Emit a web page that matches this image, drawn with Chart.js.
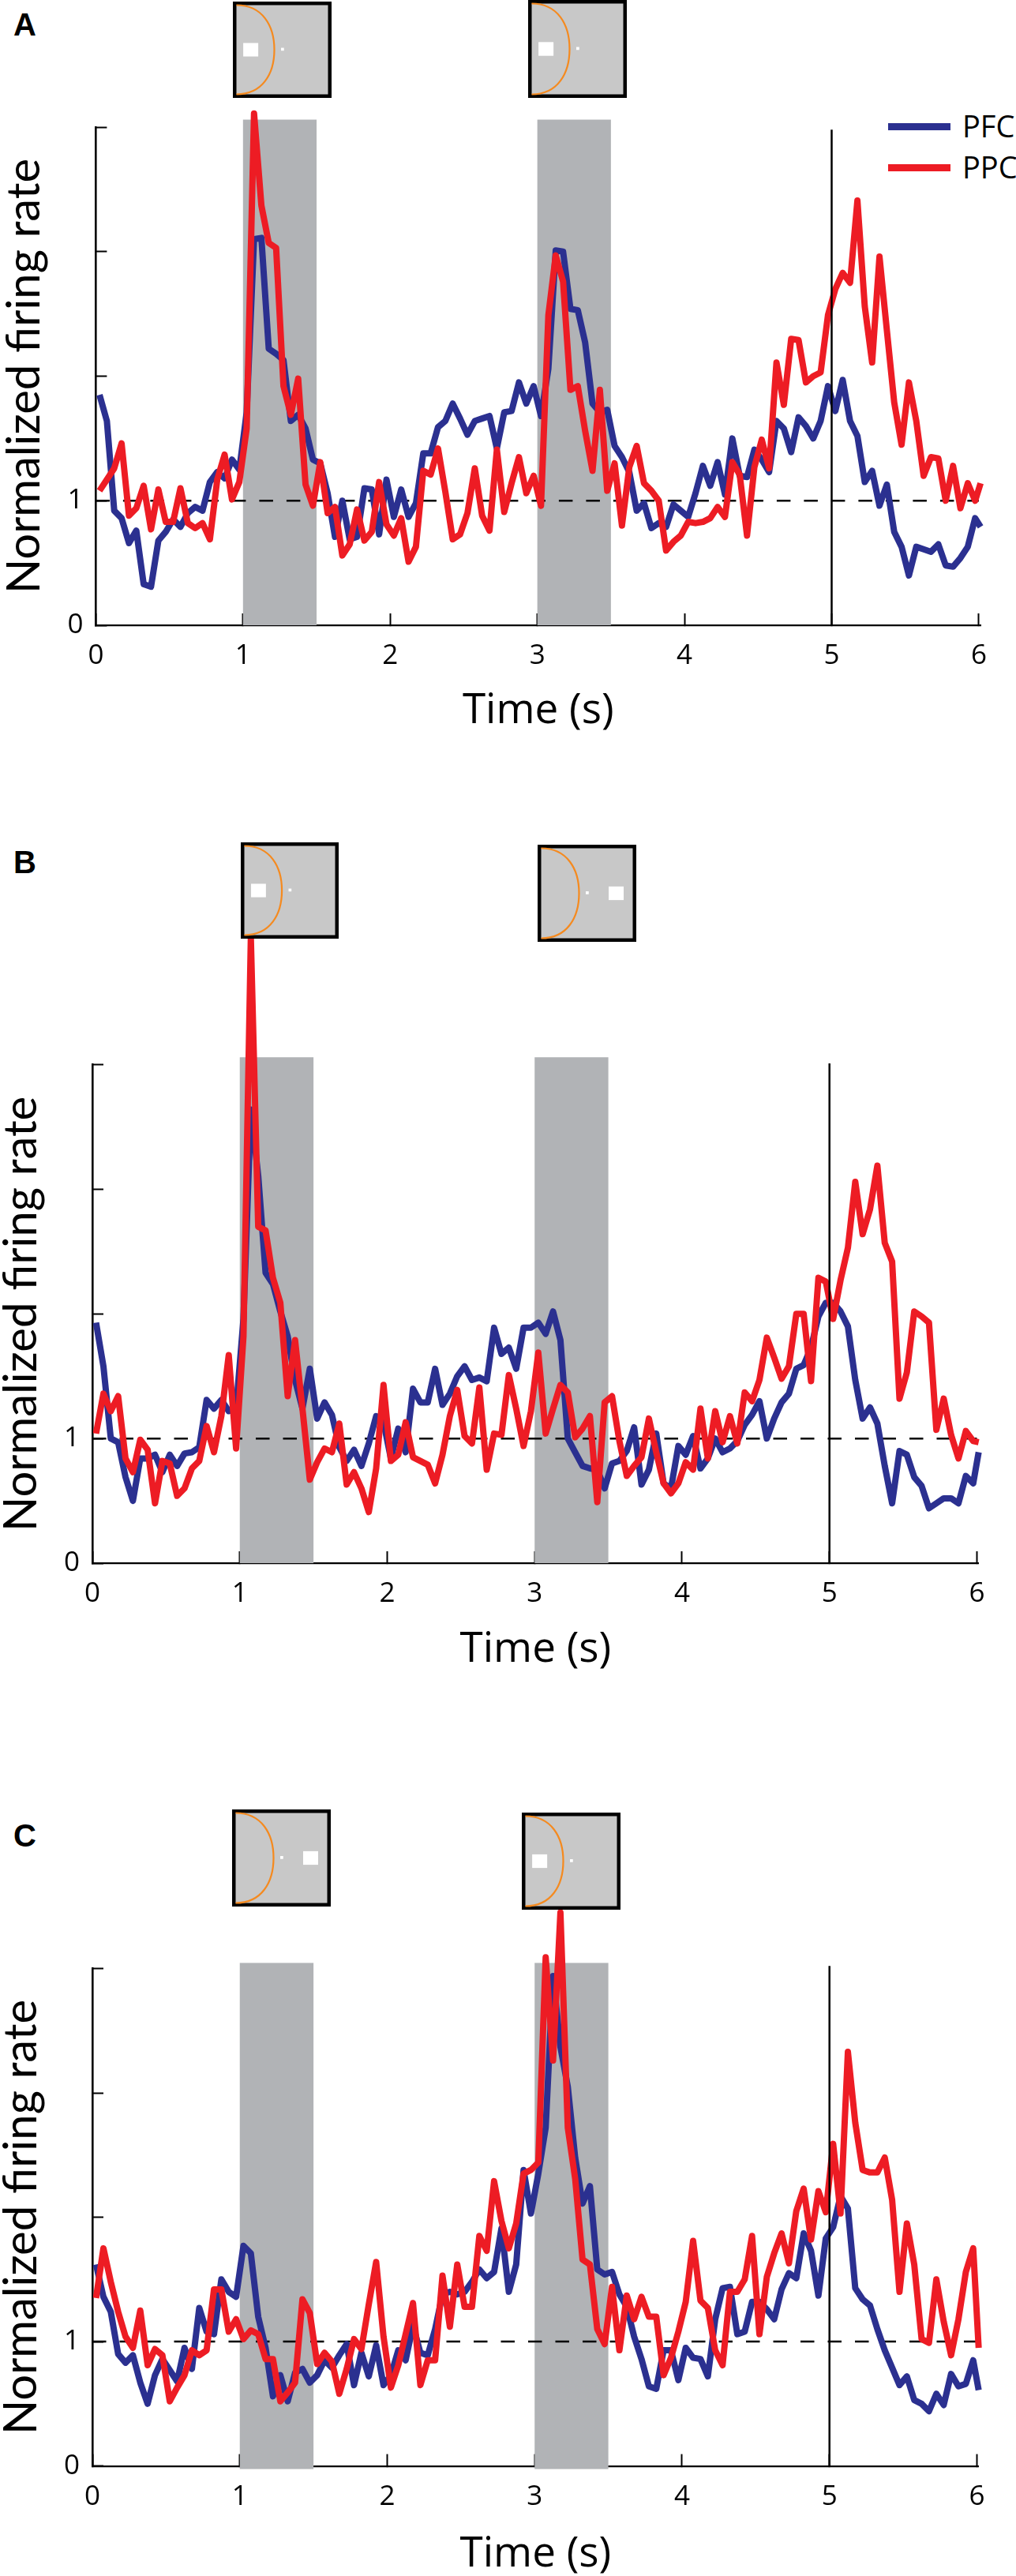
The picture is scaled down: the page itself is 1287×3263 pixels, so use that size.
<!DOCTYPE html>
<html>
<head>
<meta charset="utf-8">
<title>Normalized firing rate</title>
<script src="https://cdn.jsdelivr.net/npm/chart.js@4"></script>
<style>
html,body{margin:0;padding:0;background:#fff;}
body{position:relative;width:1287px;height:3263px;overflow:hidden;font-family:"Open Sans",sans-serif;}
canvas{position:absolute;left:0;}
.letter{position:absolute;left:17px;font:bold 40px "Liberation Sans",sans-serif;color:#000;line-height:1;}
.thumb{position:absolute;}
.legline{position:absolute;left:1125px;width:79px;height:8.5px;}
.legtext{position:absolute;left:1219px;font:38px "Open Sans",sans-serif;line-height:1;color:#000;}
</style>
</head>
<body>
<div class="letter" id="lA" style="top:11px">A</div>
<div class="letter" id="lB" style="top:1072px">B</div>
<div class="letter" id="lC" style="top:2305px">C</div>
<div class="legline" style="top:156px;background:#2b3090"></div>
<div class="legline" style="top:208px;background:#ed1c24"></div>
<div class="legtext" style="top:140px">PFC</div>
<div class="legtext" style="top:192px">PPC</div>
<script>
const xTicks = [0,1,2,3,4,5,6];
const yTicks = [0,1,2,3,4];
const yLabelled = [0,1];
const cueStarts = [1,3];
const cueLength = 0.5;
const responseTime = 5;
const baseline = 1;

const pfcA = [1.85,1.64,0.92,0.86,0.66,0.76,0.33,0.31,0.68,0.75,0.85,0.79,0.90,0.95,0.92,1.15,1.23,1.18,1.33,1.25,1.71,3.10,3.11,2.22,2.18,2.13,1.64,1.69,1.58,1.33,1.30,1.06,0.71,1.00,0.69,0.71,1.10,1.09,0.73,1.17,0.87,1.09,0.87,0.98,1.38,1.38,1.59,1.64,1.78,1.66,1.53,1.64,1.66,1.68,1.42,1.71,1.72,1.95,1.78,1.92,1.68,2.06,3.01,3.00,2.54,2.53,2.27,1.78,1.71,1.73,1.44,1.35,1.23,0.92,0.98,0.78,0.82,0.79,0.97,0.92,0.87,1.06,1.28,1.12,1.31,1.05,1.50,1.20,1.19,1.41,1.33,1.23,1.64,1.58,1.39,1.67,1.60,1.50,1.64,1.92,1.72,1.97,1.64,1.52,1.15,1.24,0.96,1.13,0.75,0.63,0.40,0.63,0.61,0.59,0.65,0.48,0.47,0.54,0.63,0.86,0.79];
const ppcA = [1.08,1.17,1.26,1.46,0.88,0.94,1.12,0.77,1.09,0.83,0.83,1.10,0.82,0.78,0.82,0.69,1.17,1.37,1.01,1.15,1.58,4.11,3.37,3.07,3.03,1.92,1.69,1.98,1.13,0.96,1.31,0.90,0.95,0.56,0.65,0.93,0.68,0.75,1.15,0.81,0.72,0.86,0.51,0.63,1.24,1.21,1.42,1.07,0.69,0.73,0.90,1.26,0.88,0.76,1.41,0.91,1.14,1.35,1.06,1.20,0.96,2.49,2.97,2.76,1.89,1.92,1.56,1.24,1.89,1.08,1.30,0.80,1.27,1.44,1.14,1.08,1.00,0.60,0.67,0.72,0.83,0.82,0.83,0.86,0.95,0.87,1.31,1.21,0.72,1.27,1.49,1.26,2.11,1.77,2.30,2.29,1.95,2.00,2.03,2.49,2.70,2.83,2.75,3.41,2.56,2.11,2.96,2.37,1.79,1.45,1.95,1.64,1.20,1.35,1.34,1.00,1.28,0.94,1.14,1.00,1.14];
const pfcB = [1.93,1.58,1.00,0.97,0.69,0.50,0.84,0.84,0.87,0.73,0.87,0.78,0.88,0.89,0.93,1.31,1.24,1.31,1.22,1.24,1.96,3.64,3.11,2.33,2.24,2.02,1.82,1.47,1.24,1.56,1.16,1.29,1.19,0.93,0.82,0.91,0.78,0.96,1.18,1.13,0.84,1.08,0.89,1.40,1.29,1.29,1.56,1.27,1.36,1.50,1.58,1.47,1.49,1.46,1.89,1.68,1.73,1.56,1.89,1.89,1.93,1.84,2.02,1.79,1.00,0.89,0.78,0.76,0.75,0.60,0.80,0.82,0.90,1.09,0.63,0.75,1.04,0.64,0.60,0.94,0.87,1.02,0.76,0.84,1.00,0.89,0.92,0.98,1.11,1.19,1.30,1.00,1.16,1.29,1.36,1.56,1.59,1.73,1.98,2.09,2.09,2.02,1.90,1.47,1.16,1.25,1.12,0.78,0.48,0.90,0.87,0.69,0.62,0.44,0.48,0.52,0.52,0.48,0.70,0.64,0.89];
const ppcB = [1.04,1.36,1.22,1.34,0.84,0.73,0.99,0.91,0.48,0.82,0.80,0.54,0.60,0.76,0.82,1.10,0.89,1.18,1.67,0.92,1.82,5.02,2.70,2.67,2.29,2.09,1.34,1.79,1.24,0.67,0.81,0.92,0.89,1.12,0.63,0.73,0.60,0.41,0.76,1.43,0.82,0.87,1.13,0.85,0.82,0.79,0.64,0.87,1.18,1.39,1.02,0.96,1.41,0.75,1.04,1.03,1.51,1.24,0.94,1.22,1.69,1.04,1.24,1.43,1.37,1.01,1.08,1.18,0.49,1.29,1.34,0.98,0.70,0.78,0.85,1.16,0.89,0.64,0.56,0.64,0.81,0.75,1.24,0.84,1.22,0.97,1.18,0.96,1.37,1.30,1.47,1.81,1.65,1.48,1.58,2.00,2.00,1.46,2.29,2.26,1.96,2.27,2.53,3.06,2.64,2.84,3.19,2.57,2.42,1.32,1.53,2.02,1.98,1.93,1.07,1.32,1.03,0.84,1.06,0.98,0.97];
const pfcC = [1.62,1.36,1.24,0.90,0.83,0.89,0.67,0.50,0.73,0.86,0.77,0.68,0.95,0.78,1.27,1.08,1.06,1.50,1.40,1.36,1.77,1.71,1.20,0.95,0.56,0.73,0.52,0.75,0.78,0.67,0.73,0.85,0.79,0.89,0.98,0.65,0.91,0.72,0.97,0.65,0.73,0.93,0.85,1.13,0.91,0.89,1.10,1.38,1.40,1.38,1.40,1.48,1.58,1.51,1.56,1.91,1.40,1.62,2.38,2.03,2.35,2.72,3.94,3.37,3.05,2.48,2.11,2.25,1.58,1.54,1.56,1.38,1.28,1.04,0.86,0.64,0.62,0.93,0.93,0.69,0.95,0.87,0.86,0.72,1.18,1.43,1.44,1.06,1.08,1.32,1.32,1.26,1.18,1.42,1.55,1.51,1.87,1.73,1.37,1.83,1.92,2.17,2.07,1.43,1.34,1.29,1.10,0.93,0.79,0.65,0.72,0.53,0.50,0.44,0.58,0.49,0.74,0.64,0.66,0.85,0.61];
const ppcC = [1.35,1.75,1.48,1.24,1.04,0.95,1.25,0.81,0.94,0.89,0.52,0.63,0.73,0.93,0.89,0.93,1.42,1.42,1.08,1.18,1.02,1.09,1.06,0.86,0.86,0.52,0.59,0.67,1.34,1.23,0.82,0.91,0.84,0.58,0.78,1.02,0.94,1.30,1.64,1.04,0.63,0.81,1.06,1.31,0.65,0.85,0.85,1.53,1.12,1.62,1.28,1.28,1.85,1.73,2.29,1.97,1.75,1.95,2.35,2.38,2.44,4.09,3.26,4.45,2.72,2.31,1.66,1.62,1.10,0.98,1.44,0.93,1.37,1.18,1.36,1.20,1.20,0.73,0.87,1.08,1.32,1.81,1.33,1.27,0.93,0.81,1.40,1.40,1.50,1.85,1.06,1.52,1.71,1.87,1.63,2.05,2.23,1.82,2.21,2.04,2.59,2.03,3.33,2.76,2.38,2.36,2.36,2.48,2.14,1.40,1.95,1.62,1.02,0.99,1.50,1.16,0.89,1.18,1.56,1.75,0.95];

const BLUE = '#2b3090', RED = '#ed1c24', BAND = '#b1b3b6', INK = '#000';
const XMAX = 6.012;

const bandPlugin = {
  id: 'cueBands',
  beforeDatasetsDraw(chart, args, opts) {
    const {ctx, scales:{x,y}} = chart;
    ctx.save();
    ctx.fillStyle = BAND;
    cueStarts.forEach(s => {
      const x0 = x.getPixelForValue(s), x1 = x.getPixelForValue(s + cueLength);
      const y0 = y.getPixelForValue(opts.top), y1 = y.getPixelForValue(opts.bottom);
      ctx.fillRect(x0, y0, x1 - x0, y1 - y0);
    });
    ctx.restore();
  }
};

function series(values) {
  return values.map((v, i) => ({x: Math.min(0.025 + 0.05 * i, XMAX), y: v}));
}

function makePanel(p) {
  const cv = document.createElement('canvas');
  cv.width = 1287; cv.height = p.h;
  cv.style.top = p.top + 'px';
  cv.style.width = '1287px'; cv.style.height = p.h + 'px';
  document.body.appendChild(cv);
  new Chart(cv.getContext('2d'), {
    type: 'line',
    plugins: [bandPlugin],
    data: {datasets: [
      {label:'vertical', data:[{x:responseTime,y:0},{x:responseTime,y:p.vTop}], borderColor:INK, borderWidth:2.5, pointRadius:0, clip:false, order:0},
      {label:'PPC', data:series(p.ppc), borderColor:RED, borderWidth:8, pointRadius:0, tension:0, borderJoinStyle:'round', borderCapStyle:'butt', clip:false, order:1},
      {label:'PFC', data:series(p.pfc), borderColor:BLUE, borderWidth:8, pointRadius:0, tension:0, borderJoinStyle:'round', borderCapStyle:'butt', clip:false, order:2},
      {label:'baseline', data:[{x:0,y:baseline},{x:6,y:baseline}], borderColor:'#000', borderWidth:2.5, borderDash:[17.5,17], pointRadius:0, order:3}
    ]},
    options: {
      responsive:false, animation:false, devicePixelRatio:1,
      parsing:false, normalized:true,
      layout:{autoPadding:false, padding:{left:0, top:p.T, right:1287-p.R, bottom:0}},
      plugins:{legend:{display:false}, title:{display:false}, tooltip:{enabled:false}, cueBands:{top:p.bandTop, bottom:p.bandBottom}},
      scales:{
        x:{
          type:'linear', min:0, max:XMAX,
          afterFit:s=>{s.height = p.h - p.B;},
          afterBuildTicks:s=>{s.ticks = xTicks.map(v=>({value:v}));},
          border:{display:true, width:2.2, color:INK},
          grid:{drawOnChartArea:false, drawTicks:true, tickLength:-15, tickWidth:2, tickColor:INK},
          ticks:{autoSkip:false, maxRotation:0, padding:p.xPad, color:'#000', font:{family:'"Open Sans"', size:35, lineHeight:1},
            callback:v=>String(v)},
          title:{display:true, text:'Time (s)', color:'#000', padding:{top:0,bottom:p.xTitlePad}, font:{family:'"Open Sans"', size:53, lineHeight:1}}
        },
        y:{
          type:'linear', min:0, max:4,
          afterFit:s=>{s.width = p.L;},
          afterBuildTicks:s=>{s.ticks = yTicks.map(v=>({value:v}));},
          border:{display:true, width:2.6, color:INK},
          grid:{drawOnChartArea:false, drawTicks:true, tickLength:-14, tickWidth:2, tickColor:INK},
          ticks:{autoSkip:false, padding:30, color:'#000', font:{family:'"Open Sans"', size:35, lineHeight:1},
            callback:v=>yLabelled.includes(v)?String(v):''},
          title:{display:true, text:'Normalized firing rate', color:'#000', padding:{top:p.yTitlePad,bottom:0}, font:{family:'Lato', size:58, lineHeight:1}}
        }
      }
    }
  });
}

makePanel({top:0, h:960, L:121.4, R:1243.8, T:161, B:792, pfc:pfcA, ppc:ppcA, bandTop:4.06, bandBottom:0, vTop:3.98, xPad:37, xTitlePad:33, yTitlePad:2});
makePanel({top:1040, h:1100, L:117, R:1239.7, T:308.7, B:940, pfc:pfcB, ppc:ppcB, bandTop:4.06, bandBottom:0, vTop:4.01, xPad:37, xTitlePad:24, yTitlePad:-2});
makePanel({top:2260, h:1003, L:117, R:1239.7, T:233.5, B:863.6, pfc:pfcC, ppc:ppcC, bandTop:4.045, bandBottom:-0.025, vTop:4.02, xPad:37, xTitlePad:1, yTitlePad:-2});

// Stimulus thumbnails
const thumbs = [
  {l:295,t:2,w:125,h:122,target:'L'},
  {l:669,t:0,w:125,h:124,target:'L'},
  {l:305,t:1067,w:124,h:122,target:'L'},
  {l:681,t:1070,w:125,h:123,target:'R'},
  {l:294,t:2292,w:125,h:123,target:'R'},
  {l:661,t:2296,w:125,h:123,target:'L'}
];
thumbs.forEach(t => {
  const tx = t.target === 'L' ? 0.105 : 0.72;
  const w = t.w, h = t.h, b = 4.5;
  const svg = `<svg xmlns="http://www.w3.org/2000/svg" class="thumb" style="left:${t.l}px;top:${t.t}px;z-index:3" width="${w}" height="${h}" viewBox="0 0 ${w} ${h}">
    <rect x="${b/2}" y="${b/2}" width="${w-b}" height="${h-b}" fill="#c8c8c8" stroke="#000" stroke-width="${b}"/>
    <path d="M${b} ${b} C ${w*0.3} ${b}, ${w*0.42} ${h*0.25}, ${w*0.42} ${h*0.5} C ${w*0.42} ${h*0.75}, ${w*0.3} ${h-b}, ${b} ${h-b}" fill="none" stroke="#f58a1f" stroke-width="2.2"/>
    <rect x="${w*tx}" y="${h*0.43}" width="${w*0.152}" height="${h*0.14}" fill="#fff"/>
    <rect x="${w*0.488}" y="${h*0.48}" width="${w*0.03}" height="${h*0.03}" fill="#fff"/>
  </svg>`;
  document.body.insertAdjacentHTML('beforeend', svg);
});
</script>
</body>
</html>
